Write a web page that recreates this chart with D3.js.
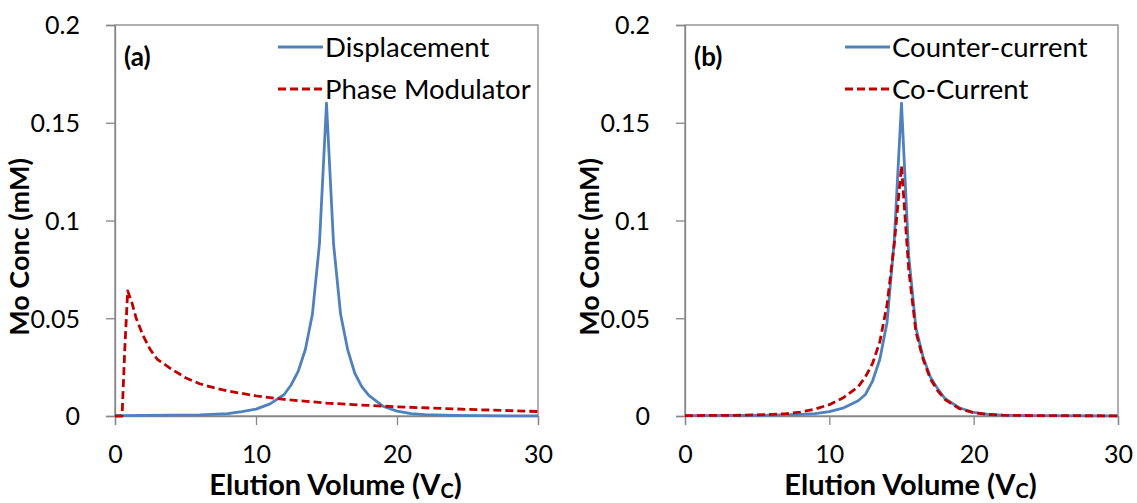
<!DOCTYPE html>
<html>
<head>
<meta charset="utf-8">
<script src="https://cdn.jsdelivr.net/npm/d3@7"></script>
<style>
  body { margin: 0; background: #fff; }
  svg { display: block; }
  text { font-family: Lato, "Open Sans", sans-serif; fill: #000; }
</style>
</head>
<body>
<svg id="chart" width="1137" height="503"></svg>
<script>
// ---- Data ----
const xTicks = [0, 10, 20, 30];
const yTicks = [0, 0.05, 0.1, 0.15, 0.2];
const yTickLabels = ["0", "0.05", "0.1", "0.15", "0.2"];

// Panel (a)
const dispX = [0, 2, 4, 6, 8, 9, 10, 11, 12, 12.5, 13, 13.5, 14, 14.5, 15, 15.5, 16, 16.5, 17, 17.5, 18, 19, 20, 21, 22, 24, 26, 28, 30];
const dispY = [0.0002, 0.0003, 0.0004, 0.0006, 0.0012, 0.0022, 0.0035, 0.0062, 0.011, 0.016, 0.023, 0.034, 0.052, 0.088, 0.16, 0.088, 0.052, 0.034, 0.022, 0.015, 0.0105, 0.005, 0.0025, 0.0012, 0.0007, 0.0003, 0.0002, 0.0001, 0.0001];
const pmX = [0, 0.5, 0.7, 0.9, 1.2, 1.5, 2, 2.5, 3, 4, 5, 6, 7, 8, 10, 12, 15, 18, 20, 25, 30];
const pmY = [0, 0, 0.035, 0.064, 0.058, 0.05, 0.041, 0.034, 0.029, 0.024, 0.0196, 0.0165, 0.0145, 0.0128, 0.0103, 0.0085, 0.0066, 0.0054, 0.0047, 0.0034, 0.0023];

// Panel (b)
const ccX = [0, 4, 6, 8, 9, 10, 11, 12, 12.5, 13, 13.5, 14, 14.5, 15, 15.5, 16, 16.5, 17, 17.5, 18, 19, 20, 21, 22, 24, 30];
const counterY = [0.0002, 0.0003, 0.0004, 0.0008, 0.0012, 0.0022, 0.0042, 0.0078, 0.011, 0.018, 0.029, 0.048, 0.09, 0.16, 0.082, 0.045, 0.03, 0.02, 0.014, 0.009, 0.0042, 0.0018, 0.0008, 0.0004, 0.0002, 0.0001];
const coX = [0, 4, 6, 7, 8, 9, 10, 11, 12, 12.5, 13, 13.5, 14, 14.5, 15, 15.5, 16, 16.5, 17, 17.5, 18, 19, 20, 21, 22, 24, 30];
const coY = [0.0002, 0.0004, 0.0008, 0.0012, 0.002, 0.0035, 0.0058, 0.0095, 0.015, 0.02, 0.027, 0.038, 0.057, 0.088, 0.128, 0.075, 0.043, 0.029, 0.019, 0.013, 0.0085, 0.0038, 0.0017, 0.0008, 0.0004, 0.0002, 0.0001];

const panels = [
  { tag: "(a)", left: 115, right: 538,
    series: [
      { name: "Displacement", xs: dispX, ys: dispY, color: "#4F81BD", dash: null },
      { name: "Phase Modulator", xs: pmX, ys: pmY, color: "#C00000", dash: "8,4" }
    ], legendX: 278 },
  { tag: "(b)", left: 685, right: 1118,
    series: [
      { name: "Counter-current", xs: ccX, ys: counterY, color: "#4F81BD", dash: null },
      { name: "Co-Current", xs: coX, ys: coY, color: "#C00000", dash: "8,4" }
    ], legendX: 845 }
];

const plotTop = 25, plotBottom = 416;
const svg = d3.select("#chart");
const axisColor = "#868686";

panels.forEach(p => {
  const x = d3.scaleLinear().domain([0, 30]).range([p.left, p.right]);
  const y = d3.scaleLinear().domain([0, 0.2]).range([plotBottom, plotTop]);
  const g = svg.append("g");

  // frame
  g.append("rect").attr("x", p.left).attr("y", plotTop)
    .attr("width", p.right - p.left).attr("height", plotBottom - plotTop)
    .attr("fill", "none").attr("stroke", axisColor).attr("stroke-width", 1.3);

  // axes
  const xa = g.append("g").attr("transform", `translate(0,${plotBottom})`)
    .call(d3.axisBottom(x).tickValues(xTicks).tickSize(9).tickPadding(20).tickFormat(d3.format("d")));
  const ya = g.append("g").attr("transform", `translate(${p.left},0)`)
    .call(d3.axisLeft(y).tickValues(yTicks).tickSize(9).tickPadding(26)
      .tickFormat((d, i) => yTickLabels[i]));
  [xa, ya].forEach(a => {
    a.select(".domain").attr("stroke", axisColor).attr("stroke-width", 1.3);
    a.selectAll(".tick line").attr("stroke", axisColor).attr("stroke-width", 1.3);
    a.selectAll(".tick text").style("font-size", "25px").style("font-family", "Lato, sans-serif").attr("fill", "#111");
  });
  xa.selectAll(".tick text").attr("dy", "0.71em");
  ya.selectAll(".tick text").attr("dy", "0.35em");

  // lines
  const line = d3.line().x(d => x(d[0])).y(d => y(d[1]));
  p.series.forEach(s => {
    const pts = s.xs.map((v, i) => [v, s.ys[i]]);
    g.append("path").datum(pts).attr("d", line)
      .attr("fill", "none").attr("stroke", s.color).attr("stroke-width", 2.8)
      .attr("stroke-dasharray", s.dash).attr("stroke-linejoin", "round");
  });

  // legend
  p.series.forEach((s, i) => {
    const ly = 47 + i * 42;
    g.append("line").attr("x1", p.legendX).attr("x2", p.legendX + 45)
      .attr("y1", ly).attr("y2", ly)
      .attr("stroke", s.color).attr("stroke-width", 2.8).attr("stroke-dasharray", s.dash);
    g.append("text").attr("x", p.legendX + 47).attr("y", ly)
      .attr("dy", "0.35em").style("font-size", "27.5px").text(s.name);
  });

  // panel tag
  g.append("text").attr("x", p.left + 9).attr("y", 57).attr("dy", "0.35em")
    .style("font-size", "26px").style("font-weight", "bold").text(p.tag);

  // axis titles
  const xt = g.append("text").attr("x", (p.left + p.right) / 2 + 9).attr("y", 495)
    .attr("text-anchor", "middle").style("font-size", "29px").style("font-weight", "bold");
  xt.append("tspan").text("Elution Volume (V");
  xt.append("tspan").attr("dy", 3).style("font-size", "20px").text("C");
  xt.append("tspan").attr("dy", -3).text(")");

  g.append("text").attr("transform", `translate(${p.left - 86},247) rotate(-90)`)
    .attr("text-anchor", "middle").style("font-size", "27px").style("font-weight", "bold")
    .text("Mo Conc (mM)");
});
</script>
</body>
</html>
